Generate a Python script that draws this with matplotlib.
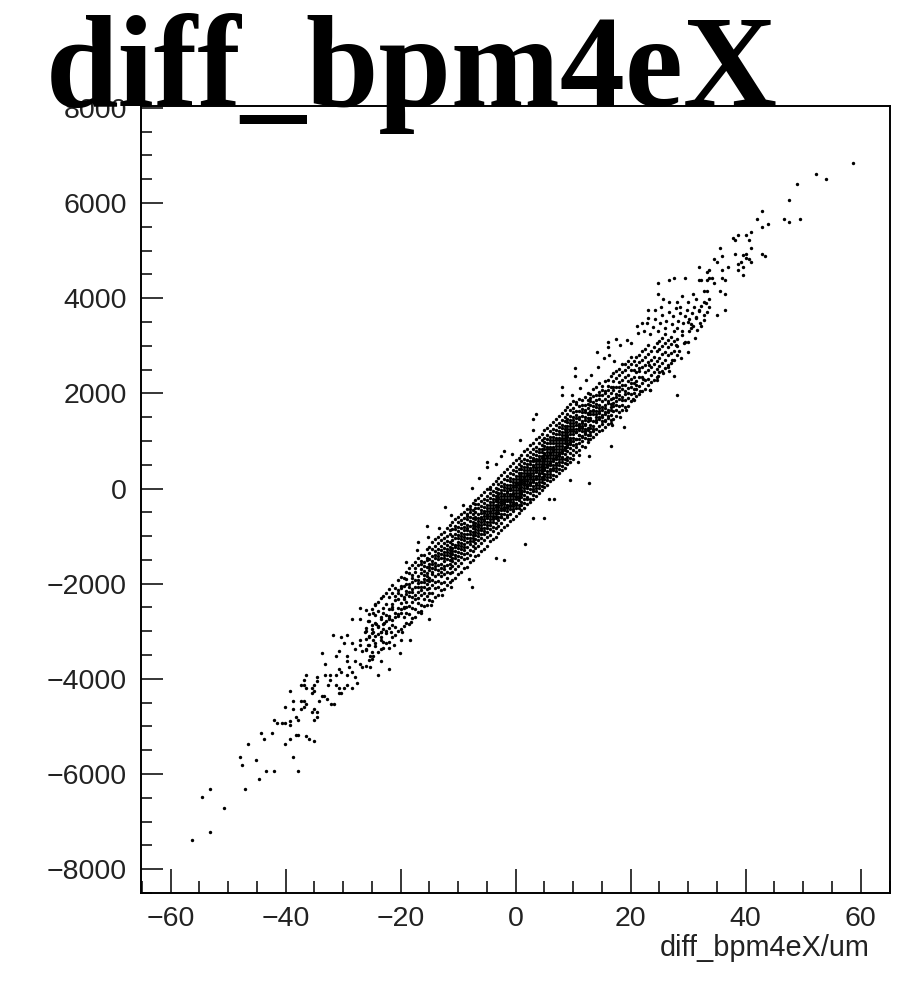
import matplotlib
matplotlib.use("Agg")
import matplotlib.pyplot as plt
from matplotlib.ticker import MultipleLocator, FuncFormatter

# isolated points
outer_x = [58.6,52.2,54.0,48.9,47.5,42.9,42.0,46.6,47.5,49.4,43.8,42.9,41.0,40.1,38.7,37.8,38.2,40.6,35.5,41.0,38.2,35.9,34.5,35.0,42.9,43.4,39.6,40.1,40.1,40.6,41.0,39.2,38.7,39.6,36.9,35.9,31.8,38.7,39.6,33.6,33.2,34.1,33.6,33.2,35.9,36.4,34.5,29.4,27.6,26.7,24.8,32.2,31.8,35.5,36.4,24.8,32.7,33.2,30.8,29.0,25.7,26.7,28.1,31.3,33.6,29.9,32.7,25.3,23.0,28.5,24.3,33.6,36.4,35.0,33.2,31.8,29.9,31.3,32.7,32.2,30.8,30.4,23.0,22.0,21.1,29.4,29.9,16.0,16.0,17.4,27.6,28.0,26.7,24.8,23.4,29.0,
 -56.3,-53.1,-50.8,-54.5,-53.1,-47.1,-44.7,-43.4,-42.0,-37.8,-47.5,-48.0,-45.2,-38.7,-46.6,-40.1,-43.8,-44.3,-42.4,-39.2,-38.2,-37.8,-36.4,-35.9,-35.0,-42.0,-41.5,-40.6,-40.1,-39.2,-39.2,-38.2,-37.8,-35.0,-34.5,-40.1,-38.7,-38.7,-37.3,-36.8,-37.3,-36.8,-36.4,-35.5,-35.0,-34.5,-34.2,-33.7,-33.3,-32.8,-32.1,-31.6,-39.2,-36.4,-36.8,-37.3,-36.8,-36.4,-35.5,-35.0,-35.0,-35.5,-34.5,-34.5,-32.7,-33.1,-32.2,-32.2,-31.3,-30.8,-30.4,-30.8,-29.9,-29.4,-28.5,-30.8,-30.4,-29.4,-31.3,-29.0,-28.5,-28.0,-27.6,-33.6,-33.1,-31.3,-30.8,-29.4,-29.4,-28.0,-27.1,-26.7,-25.3,-23.9,-22.0,-23.4,-31.8,-30.4,-29.4,-29.9,-28.5,-20.2,-18.3,-20.0,-21.1,-22.0,-28.5,-27.1,-27.1,-15.1,-27.1,-27.1,-26.7,-28.0,-25.7,-25.3,-24.8,-24.8,-23.4,-26.2,-24.8,-23.4,-25.7,-24.3,-22.9,-21.6,-19.7,-22.0,-24.8,
 10.4,10.4,8.1,8.1,3.5,3.0,3.0,0.7,-2.1,-0.7,-2.6,-4.9,-4.9,-3.5,-6.3,-7.6,-12.3,-15.5,-16.9,12.7,16.5,18.8,5.8,6.7,3.0,4.9,1.6,-2.1,-3.5,-7.6,-8.1,14.1,23.4,12.7,10.9,9.5]
outer_y = [6838,6614,6502,6390,6054,5830,5662,5662,5606,5662,5550,5494,5382,5326,5326,5270,5214,5214,5046,5046,4934,4878,4822,4766,4934,4878,4906,4920,4836,4822,4766,4766,4710,4654,4654,4598,4654,4598,4486,4598,4542,4430,4430,4374,4430,4374,4318,4430,4430,4374,4318,4374,4374,4150,4094,4094,4150,4150,4094,4038,3982,3926,3926,3982,3982,3926,3926,3814,3758,3814,3758,3814,3758,3646,3702,3758,3506,3590,3534,3422,3422,3366,3590,3478,3422,3086,2862,3086,2974,3142,2358,1966,2470,2358,2078,3310,
 -7386,-7218,-6714,-6490,-6322,-6322,-6098,-5930,-5930,-5930,-5818,-5650,-5706,-5650,-5370,-5370,-5258,-5146,-5146,-5258,-5188,-5174,-5202,-5258,-5314,-4866,-4922,-4922,-4922,-4894,-4978,-4810,-4866,-4866,-4810,-4586,-4474,-4642,-4474,-4474,-4642,-4586,-4530,-4698,-4642,-4698,-4474,-4362,-4362,-4418,-4530,-4530,-4250,-3914,-4026,-4138,-4138,-4194,-4194,-4138,-4250,-4306,-3970,-4054,-4138,-3914,-3914,-4026,-4138,-4306,-4306,-4194,-4194,-4138,-4194,-3802,-3858,-3914,-3914,-3746,-3858,-3970,-4082,-3466,-3690,-3522,-3410,-3522,-3634,-3634,-3690,-3746,-3746,-3914,-3802,-3634,-3074,-3130,-3074,-3242,-3242,-3466,-3186,-3186,-3298,-3354,-2738,-2738,-2514,-2738,-3186,-3298,-3410,-3382,-3298,-3522,-3522,-3186,-3186,-3018,-3018,-3018,-2794,-2850,-2822,-3018,-3018,-2738,-2626,
 2526,2358,2134,1966,1574,1462,1238,1014,790,734,678,566,454,510,230,6,-386,-778,-1114,118,902,1294,-218,-218,-610,-610,-1170,-1506,-1450,-2066,-1898,2862,2078,678,566,174]

# edge points of the band, estimated
edge_x = [22.3,22.8,23.4,23.9,24.2,24.7,25.1,25.5,25.9,26.2,26.6,27.1,27.4,27.8,28.2,28.6,29.1,29.4,29.8,30.2,30.6,31.0,31.4,31.9,32.3,32.7,33.1,30.1,30.5,31.1,31.6,32.0,28.9,29.3,28.4,27.2,26.4,25.6,24.6,28.7,27.8,30.0,23.1,22.1,
 14.4,15.3,16.2,17.1,18.2,19.3,20.1,21.2,13.1,12.2,11.2,9.8,18.1,19.2,20.4,21.6,16.7,
 -18.2,-16.4,-14.7,-12.8,-11.2,-19.1,-17.2,-15.2,-13.4,-11.3,-9.2]
edge_y = [3300,3470,3240,3390,3560,3310,3480,3640,3370,3530,3710,3450,3620,3800,3530,3690,3480,3620,3760,3560,3680,3820,3600,3720,3840,3650,3890,3300,3450,3170,3340,3480,3220,3060,2900,2700,2560,2420,2280,2750,3010,3080,2600,2300,
 2560,2740,2810,2690,3010,3130,3060,3260,2390,2270,2120,1960,1500,1640,1890,2050,1340,
 -2810,-2620,-2450,-2240,-2080,-1540,-1300,-1020,-820,-560,-350]

# dense band, estimated column by column
core_x = [-26,-25.5,-25,-24.5,-24,-23.5,-23,-22.5,-22,-21.5,-21,-20.5,-20,-19.5,-19,-18.5,-18,-17.5,-17,-16.5,-16,-15.5,-15,-14.5,-14,-13.5,-13,-12.5,-12,-11.5,-11,-10.5,-10,-9.5,-9,-8.5,-8,-7.5,-7,-6.5,-6,-5.5,-5,-4.5,-4,-3.5,-3,-2.5,-2,-1.5,-1,-0.5,0,0.5,1,1.5,2,2.5,3,3.5,4,4.5,5,5.5,6,6.5,7,7.5,8,8.5,9,9.5,10,10.5,11,11.5,12,12.5,13,13.5,14,14.5,15,15.5,16,16.5,17,17.5,18,18.5,19,19.5,20,20.5,21,21.5,22,22.5,23,23.5,24,24.5,25,25.5,26,26.5,27,27.5,28]
core_y = [
[-3730,-3400,-3370,-3170,-2990,-2930,-2560],
[-3610,-3290,-3130,-3090,-2780,-2640],
[-3590,-3440,-3030,-2960,-2870,-2530],
[-3300,-3240,-3100,-2830,-2650,-2450,-2420],
[-3440,-3050,-2920,-2880,-2570,-2390],
[-3380,-3120,-3010,-2740,-2700,-2300],
[-3360,-3220,-2960,-2850,-2610,-2520,-2250],
[-3240,-3030,-3000,-2790,-2650,-2430,-2190],
[-3230,-2930,-2720,-2680,-2530,-2280,-2120],
[-3120,-2860,-2760,-2540,-2480,-2200,-2030,-2420],
[-3080,-2900,-2690,-2610,-2340,-2260,-2100],
[-3000,-2680,-2630,-2510,-2320,-2190,-2130,-1930],
[-2960,-2620,-2530,-2410,-2240,-2090,-2050,-1850],
[-2890,-2700,-2480,-2330,-2270,-2040,-1880,-2520],
[-2830,-2610,-2500,-2380,-2210,-2150,-1900,-1750,-2000],
[-2850,-2640,-2470,-2250,-2180,-2060,-2000,-1780,-1660],
[-2720,-2510,-2290,-2170,-2120,-1970,-1810,-1610,-2380,-1880],
[-2690,-2530,-2330,-2240,-2060,-1930,-1750,-1680,-1540],
[-2600,-2410,-2180,-2080,-1990,-1920,-1840,-1610,-1470,-2310],
[-2580,-2450,-2240,-2130,-1960,-1770,-1690,-1590,-1520,-1390,-2060],
[-2470,-2190,-2060,-1970,-1900,-1810,-1620,-1550,-1400,-2330,-1740],
[-2450,-2260,-2120,-2000,-1840,-1780,-1510,-1460,-1270,-1930,-1650],
[-2340,-2090,-1950,-1890,-1720,-1640,-1580,-1360,-1220,-2190,-1480],
[-2370,-2030,-1920,-1800,-1750,-1590,-1520,-1280,-1130,-2190,-1660,-1410],
[-2270,-2100,-1970,-1690,-1620,-1560,-1390,-1310,-1060,-1840,-1470,-1200],
[-2230,-1940,-1790,-1710,-1490,-1410,-1350,-1150,-1020,-2060,-1600,-1270],
[-2140,-1980,-1840,-1660,-1590,-1450,-1290,-1210,-960,-1750,-1370,-1080],
[-2120,-1800,-1700,-1620,-1530,-1390,-1260,-1050,-910,-1960,-1470,-1150,-1330],
[-2030,-1870,-1750,-1490,-1400,-1340,-1190,-1110,-840,-1610,-1280,-990],
[-1970,-1780,-1590,-1500,-1420,-1290,-1230,-950,-880,-760,-1680,-1130,-1360],
[-1920,-1620,-1530,-1370,-1310,-1160,-1090,-1000,-710,-1760,-1460,-1240,-860],
[-1880,-1690,-1460,-1390,-1230,-1180,-1040,-860,-780,-650,-1560,-1310,-950],
[-1790,-1510,-1420,-1330,-1190,-1120,-970,-900,-700,-600,-1630,-1260,-1050,-810],
[-1750,-1570,-1360,-1280,-1140,-1070,-1000,-840,-660,-530,-1440,-1210,-930,-750],
[-1660,-1480,-1300,-1220,-1090,-1010,-880,-810,-610,-490,-1380,-1160,-950,-720],
[-1640,-1450,-1230,-1030,-960,-880,-820,-650,-580,-430,-1350,-1120,-760,-530],
[-1540,-1400,-1170,-1100,-950,-890,-690,-600,-500,-370,-1290,-1030,-790,-440],
[-1500,-1310,-1110,-1040,-910,-840,-700,-630,-450,-310,-1210,-970,-770,-540],
[-1420,-1240,-1060,-980,-860,-790,-650,-590,-400,-250,-1150,-920,-720,-490,-330],
[-1390,-1200,-1000,-870,-800,-740,-620,-410,-330,-200,-1090,-930,-680,-530,-770],
[-1320,-1150,-960,-880,-760,-640,-590,-450,-260,-130,-1040,-700,-370,-510,-820],
[-1270,-1090,-960,-830,-690,-640,-510,-470,-210,-80,-890,-750,-390,-580,-300],
[-1200,-1020,-840,-770,-630,-580,-400,-340,-160,-20,-920,-700,-480,-250,-530],
[-1110,-970,-770,-640,-580,-470,-400,-200,-100,40,-850,-520,-340,-700,-290,-20],
[-1060,-900,-710,-640,-520,-400,-280,-220,-50,100,-800,-570,-460,-340,-130,-600],
[-1020,-830,-720,-570,-510,-390,-340,-160,-80,160,-630,-450,-270,20,-210,-510],
[-930,-780,-590,-520,-390,-280,-220,-90,90,220,-670,-450,-340,-170,-20,-510,-120],
[-880,-720,-600,-460,-340,-220,-160,-40,140,280,-530,-400,-270,-100,50,-310,-590],
[-810,-650,-460,-390,-280,-160,-110,30,200,340,-540,-330,-210,-40,100,-420,-250],
[-760,-600,-410,-340,-220,-100,20,80,260,400,-480,-270,-160,-50,170,-380,-560],
[-690,-530,-340,-280,-150,-40,70,150,320,470,-430,-210,-110,20,220,-370,-10,-250],
[-640,-470,-280,-210,-90,30,140,300,390,530,-370,-160,-30,80,210,-320,-120,-440],
[-570,-410,-300,-150,-40,80,200,270,450,600,-230,-90,30,130,360,-340,-180,120],
[-520,-340,-250,-100,20,140,260,410,510,650,-160,-30,90,200,330,-410,-200,70],
[-450,-290,-110,-40,90,200,320,470,580,710,-180,30,140,260,400,-340,-70,170],
[-400,-230,-130,20,150,270,380,540,630,780,-50,80,200,320,450,-300,110,240],
[-330,-170,-70,90,210,320,450,600,700,840,10,150,260,380,510,-230,50,280],
[-280,-100,70,140,280,380,510,670,760,910,0,210,330,440,580,-220,110,240],
[-210,-50,60,210,330,450,570,720,830,960,140,270,390,500,640,-130,-10,180,600],
[-160,10,190,270,390,510,630,790,880,1030,120,340,460,570,700,-60,230,430,80],
[-90,70,190,330,460,570,690,840,950,1090,260,390,510,630,770,10,300,130,600],
[-40,130,320,400,520,640,760,910,1010,1150,240,460,580,690,830,60,360,190,480],
[30,200,380,450,580,700,830,980,1070,1220,300,520,640,750,890,120,420,260,610],
[80,250,450,510,650,760,880,1040,1130,1270,370,580,700,820,960,170,490,310,680],
[150,310,500,580,700,820,950,1090,1200,1340,420,640,770,880,1020,240,540,370,740],
[190,380,570,640,770,880,1010,1160,1260,1390,490,700,830,950,1080,290,610,430,800],
[270,430,630,700,830,950,1070,1220,1330,1460,540,770,890,1010,1140,360,660,490],
[320,500,690,760,890,1010,1140,1290,1380,1520,610,830,950,1070,1200,410,730,550],
[390,550,750,830,950,1070,1190,1340,1450,1580,660,890,1010,1130,1270,470,790,610],
[440,620,810,880,1010,1130,1250,1410,1510,1640,730,950,1070,1190,1320,530,850],
[510,670,870,950,1080,1190,1320,1470,1570,1710,790,1020,1130,1250,1390,590,910],
[560,740,930,1010,1140,1250,1380,1530,1640,1770,850,1070,1200,1310,1450,650,970],
[630,800,990,1070,1200,1310,1440,1600,1700,1830,910,1140,1260,1380,1510,710],
[760,940,1050,1260,1330,1490,1540,1780,1820,1050,1190,1390,1620,880,1180],
[800,950,1130,1310,1460,1500,1730,1880,1040,1280,1360,1620,1220,700,1120],
[890,1000,1200,1270,1380,1520,1680,1850,1100,1310,1420,1600,1750,1080],
[880,1070,1250,1330,1440,1610,1760,1920,1160,1360,1510,1660,1210,1150],
[970,1130,1280,1420,1560,1700,1770,2010,1220,1490,1590,1850,1050],
[1030,1180,1330,1440,1570,1760,1830,1990,1280,1490,1630,1910,1130],
[1090,1200,1410,1560,1660,1730,1940,2090,1320,1620,1820,1250],
[1140,1260,1450,1560,1720,1850,1960,2140,1400,1620,1780,1510],
[1210,1310,1510,1630,1700,1880,2020,2210,1460,1750,1960,1590],
[1230,1410,1550,1720,1840,1960,2150,1500,1660,2060,1350],
[1300,1450,1610,1750,1880,2040,2250,1570,1690,2010,1420],
[1350,1480,1660,1790,1950,2160,2290,1610,1840,2080,1530],
[1380,1550,1710,1880,2010,2140,1780,1640,2370,1450],
[1460,1620,1800,1900,2070,2250,2420,1730,2130],
[1530,1660,1840,1990,2130,2320,1760,1920,2470],
[1600,1730,1880,2050,2240,2380,1960,2130,2520],
[1640,1760,1920,2100,2270,2440,1860,2180,2610],
[1720,1860,2040,2180,2350,2480,1980,2620],
[1740,1900,2110,2260,2380,2560,2010,2690],
[1830,1980,2140,2310,2490,2620,2210,2760],
[1870,2000,2220,2350,2500,2690,2100],
[1940,2090,2260,2440,2590,2770,2180],
[1980,2150,2340,2470,2650,2800,2540],
[2040,2210,2350,2550,2710,2880],
[2090,2280,2450,2590,2770,2940],
[2170,2300,2490,2660,2830,3010],
[2230,2390,2560,2710,2900],
[2280,2450,2620,2770,2980],
[2350,2510,2690,2880,3050],
[2440,2570,2750,2940,3110],
[2470,2640,2830,3000,3170],
[2530,2710,2870,3060,3240],
[2590,2800,2980,3120],
[2640,2840,3040,3190],
[2710,2890,3110,3320],
[2800,2990,3150,3370],
[2840,3040,3260],
[2920,3130,3300],
]

tick_x = [-60,-40,-20,0,20,40,60]
tick_y = [-8000,-6000,-4000,-2000,0,2000,4000,6000,8000]
title_text = "diff_bpm4eX"
xlabel_text = "diff_bpm4eX/um"

W, H = 897, 982
fig = plt.figure(figsize=(W/100, H/100), dpi=100)
L, R, T, B = 140.7, 889.5, 106.0, 893.3
ax = fig.add_axes([L/W, 1-B/H, (R-L)/W, (B-T)/H])
ax.set_xlim(-65.2, 65.0)
ax.set_ylim(-8506, 8038)

xs = list(outer_x) + edge_x
ys = list(outer_y) + edge_y
for cx, col in zip(core_x, core_y):
    xs += [cx]*len(col)
    ys += col
ax.scatter(xs, ys, s=6.0, marker='o', color='black', linewidths=0, zorder=3)

ax.set_xticks(tick_x)
ax.set_yticks(tick_y)
ax.xaxis.set_minor_locator(MultipleLocator(5))
ax.yaxis.set_minor_locator(MultipleLocator(500))
fmt = FuncFormatter(lambda v, p: f"{v:.0f}".replace("-", "\u2212"))
ax.xaxis.set_major_formatter(fmt)
ax.yaxis.set_major_formatter(fmt)
ax.tick_params(axis='x', which='major', direction='in', length=17, width=1.1, pad=9, labelsize=20.5)
ax.tick_params(axis='x', which='minor', direction='in', length=8.5, width=1.1)
ax.tick_params(axis='y', which='major', direction='in', length=16, width=1.1, pad=10, labelsize=20.5)
ax.tick_params(axis='y', which='minor', direction='in', length=8, width=1.1)
for lab in ax.get_xticklabels() + ax.get_yticklabels():
    lab.set_fontfamily('Liberation Sans')
    lab.set_color('#222222')
for s in ax.spines.values():
    s.set_linewidth(1.4)

fig.text(870/W, 1-948/H, xlabel_text, ha='right', va='center', fontsize=20.8,
         family='Liberation Sans', color='#222222')
fig.text(46/W, 1-106/H, title_text, ha='left', va='baseline', fontsize=94,
         family='Liberation Serif', weight='bold', color='black', zorder=5)

fig.savefig('out.png', dpi=100)
